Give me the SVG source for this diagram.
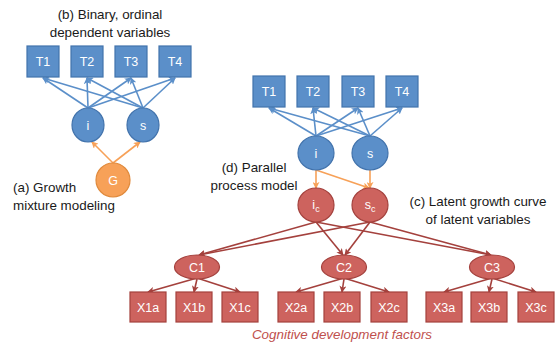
<svg xmlns="http://www.w3.org/2000/svg" width="557" height="346" viewBox="0 0 557 346">
  <style>
    .lbl { font-family: "Liberation Sans", Arial, sans-serif; font-size: 13.4px; fill: #1a1a1a; }
    .in { font-family: "Liberation Sans", Arial, sans-serif; font-size: 12.5px; fill: #ffffff; text-anchor: middle; }
    .sub { font-size: 9px; }
    .blue { fill: #5b8fc9; stroke: #4273ac; stroke-width: 1.2; }
    .red { fill: #cd635e; stroke: #a4413d; stroke-width: 1.2; }
    .orange { fill: #f7a158; stroke: #e08a3c; stroke-width: 1.2; }
    .eb { stroke: #5b8fc9; stroke-width: 1.6; fill: none; marker-end: url(#ab); }
    .eo { stroke: #f7a158; stroke-width: 1.6; fill: none; marker-end: url(#ao); }
    .er { stroke: #a4413d; stroke-width: 1.6; fill: none; marker-end: url(#ar); }
    .cap { font-family: "Liberation Sans", Arial, sans-serif; font-size: 13.4px; font-style: italic; fill: #c0504d; text-anchor: middle; }
  </style>
  <defs>
    <marker id="ab" viewBox="0 0 8 8" refX="7" refY="4" markerWidth="7" markerHeight="7" markerUnits="userSpaceOnUse" orient="auto">
      <path d="M0,0 L8,4 L0,8 L2,4 z" fill="#5b8fc9"/>
    </marker>
    <marker id="ao" viewBox="0 0 8 8" refX="7" refY="4" markerWidth="7" markerHeight="7" markerUnits="userSpaceOnUse" orient="auto">
      <path d="M0,0 L8,4 L0,8 L2,4 z" fill="#f7a158"/>
    </marker>
    <marker id="ar" viewBox="0 0 8 8" refX="7" refY="4" markerWidth="7" markerHeight="7" markerUnits="userSpaceOnUse" orient="auto">
      <path d="M0,0 L8,4 L0,8 L2,4 z" fill="#a4413d"/>
    </marker>
  </defs>

  <!-- connectors -->
  <g id="connectors">
    <!-- left model: i, s -> T1..T4 -->
    <line class="eb" x1="88" y1="108" x2="43" y2="78"/>
    <line class="eb" x1="88" y1="108" x2="87" y2="78"/>
    <line class="eb" x1="88" y1="108" x2="131" y2="78"/>
    <line class="eb" x1="88" y1="108" x2="175" y2="78"/>
    <line class="eb" x1="143" y1="108" x2="43" y2="78"/>
    <line class="eb" x1="143" y1="108" x2="87" y2="78"/>
    <line class="eb" x1="143" y1="108" x2="131" y2="78"/>
    <line class="eb" x1="143" y1="108" x2="175" y2="78"/>
    <!-- G -> i, s -->
    <line class="eo" x1="113" y1="163" x2="92" y2="142"/>
    <line class="eo" x1="113" y1="163" x2="140" y2="142"/>

    <!-- right model: i, s -> T1..T4 -->
    <line class="eb" x1="316" y1="136" x2="269" y2="108"/>
    <line class="eb" x1="316" y1="136" x2="313" y2="108"/>
    <line class="eb" x1="316" y1="136" x2="358" y2="108"/>
    <line class="eb" x1="316" y1="136" x2="402" y2="108"/>
    <line class="eb" x1="370" y1="136" x2="269" y2="108"/>
    <line class="eb" x1="370" y1="136" x2="313" y2="108"/>
    <line class="eb" x1="370" y1="136" x2="358" y2="108"/>
    <line class="eb" x1="370" y1="136" x2="402" y2="108"/>
    <!-- parallel process: i -> ic, i -> sc, s -> sc -->
    <line class="eo" x1="316" y1="170" x2="316" y2="188"/>
    <line class="eo" x1="316" y1="170" x2="369" y2="188"/>
    <line class="eo" x1="370" y1="170" x2="370" y2="188"/>

    <!-- ic, sc -> C1..C3 -->
    <line class="er" x1="316" y1="222" x2="199" y2="255"/>
    <line class="er" x1="316" y1="222" x2="343" y2="255"/>
    <line class="er" x1="316" y1="222" x2="491" y2="255"/>
    <line class="er" x1="370" y1="222" x2="199" y2="255"/>
    <line class="er" x1="370" y1="222" x2="345" y2="255"/>
    <line class="er" x1="370" y1="222" x2="491" y2="255"/>

    <!-- C -> X indicators -->
    <line class="er" x1="197" y1="278" x2="148" y2="292"/>
    <line class="er" x1="197" y1="279" x2="194" y2="292"/>
    <line class="er" x1="197" y1="278" x2="240" y2="292"/>
    <line class="er" x1="344" y1="278" x2="296" y2="292"/>
    <line class="er" x1="344" y1="279" x2="342" y2="292"/>
    <line class="er" x1="344" y1="278" x2="389" y2="292"/>
    <line class="er" x1="492" y1="278" x2="444" y2="292"/>
    <line class="er" x1="492" y1="279" x2="489" y2="292"/>
    <line class="er" x1="492" y1="278" x2="536" y2="292"/>
  </g>

  <!-- left model nodes -->
  <g id="L_T1"><rect class="blue" x="27" y="46" width="32" height="31"/><text class="in" x="43" y="66">T1</text></g>
  <g id="L_T2"><rect class="blue" x="71" y="46" width="32" height="31"/><text class="in" x="87" y="66">T2</text></g>
  <g id="L_T3"><rect class="blue" x="115" y="46" width="32" height="31"/><text class="in" x="131" y="66">T3</text></g>
  <g id="L_T4"><rect class="blue" x="159" y="46" width="32" height="31"/><text class="in" x="175" y="66">T4</text></g>
  <g id="L_i"><ellipse class="blue" cx="88" cy="125" rx="16" ry="17"/><text class="in" x="88" y="130">i</text></g>
  <g id="L_s"><ellipse class="blue" cx="143" cy="125" rx="16" ry="17"/><text class="in" x="143" y="130">s</text></g>
  <g id="L_G"><ellipse class="orange" cx="113" cy="180" rx="17" ry="17"/><text class="in" x="113" y="185">G</text></g>

  <!-- right model nodes -->
  <g id="R_T1"><rect class="blue" x="253" y="76" width="32" height="31"/><text class="in" x="269" y="96">T1</text></g>
  <g id="R_T2"><rect class="blue" x="297" y="76" width="32" height="31"/><text class="in" x="313" y="96">T2</text></g>
  <g id="R_T3"><rect class="blue" x="342" y="76" width="32" height="31"/><text class="in" x="358" y="96">T3</text></g>
  <g id="R_T4"><rect class="blue" x="386" y="76" width="32" height="31"/><text class="in" x="402" y="96">T4</text></g>
  <g id="R_i"><ellipse class="blue" cx="316" cy="153" rx="18" ry="17"/><text class="in" x="316" y="158">i</text></g>
  <g id="R_s"><ellipse class="blue" cx="370" cy="153" rx="18" ry="17"/><text class="in" x="370" y="158">s</text></g>
  <g id="R_ic"><ellipse class="red" cx="316" cy="205" rx="18" ry="17"/><text class="in" x="316" y="209">i<tspan class="sub" dy="3">c</tspan></text></g>
  <g id="R_sc"><ellipse class="red" cx="370" cy="205" rx="18" ry="17"/><text class="in" x="370" y="209">s<tspan class="sub" dy="3">c</tspan></text></g>

  <g id="C1"><ellipse class="red" cx="197" cy="267" rx="22.5" ry="12"/><text class="in" x="197" y="272">C1</text></g>
  <g id="C2"><ellipse class="red" cx="344" cy="267" rx="22.5" ry="12"/><text class="in" x="344" y="272">C2</text></g>
  <g id="C3"><ellipse class="red" cx="492" cy="267" rx="22.5" ry="12"/><text class="in" x="492" y="272">C3</text></g>

  <g id="X1a"><rect class="red" x="130" y="292" width="36" height="30"/><text class="in" x="148" y="312">X1a</text></g>
  <g id="X1b"><rect class="red" x="176" y="292" width="36" height="30"/><text class="in" x="194" y="312">X1b</text></g>
  <g id="X1c"><rect class="red" x="222" y="292" width="36" height="30"/><text class="in" x="240" y="312">X1c</text></g>
  <g id="X2a"><rect class="red" x="278" y="292" width="36" height="30"/><text class="in" x="296" y="312">X2a</text></g>
  <g id="X2b"><rect class="red" x="324" y="292" width="36" height="30"/><text class="in" x="342" y="312">X2b</text></g>
  <g id="X2c"><rect class="red" x="371" y="292" width="36" height="30"/><text class="in" x="389" y="312">X2c</text></g>
  <g id="X3a"><rect class="red" x="426" y="292" width="36" height="30"/><text class="in" x="444" y="312">X3a</text></g>
  <g id="X3b"><rect class="red" x="471" y="292" width="36" height="30"/><text class="in" x="489" y="312">X3b</text></g>
  <g id="X3c"><rect class="red" x="518" y="292" width="36" height="30"/><text class="in" x="536" y="312">X3c</text></g>

  <!-- annotations -->
  <g id="labels">
    <text class="lbl" x="110" y="19" text-anchor="middle">(b) Binary, ordinal</text>
    <text class="lbl" x="110" y="37" text-anchor="middle">dependent variables</text>
    <text class="lbl" x="13" y="192">(a) Growth</text>
    <text class="lbl" x="13" y="210">mixture modeling</text>
    <text class="lbl" x="254" y="172" text-anchor="middle">(d) Parallel</text>
    <text class="lbl" x="254" y="190" text-anchor="middle">process model</text>
    <text class="lbl" x="478" y="206" text-anchor="middle">(c) Latent growth curve</text>
    <text class="lbl" x="478" y="224" text-anchor="middle">of latent variables</text>
    <text class="cap" x="342" y="339">Cognitive development factors</text>
  </g>
</svg>
